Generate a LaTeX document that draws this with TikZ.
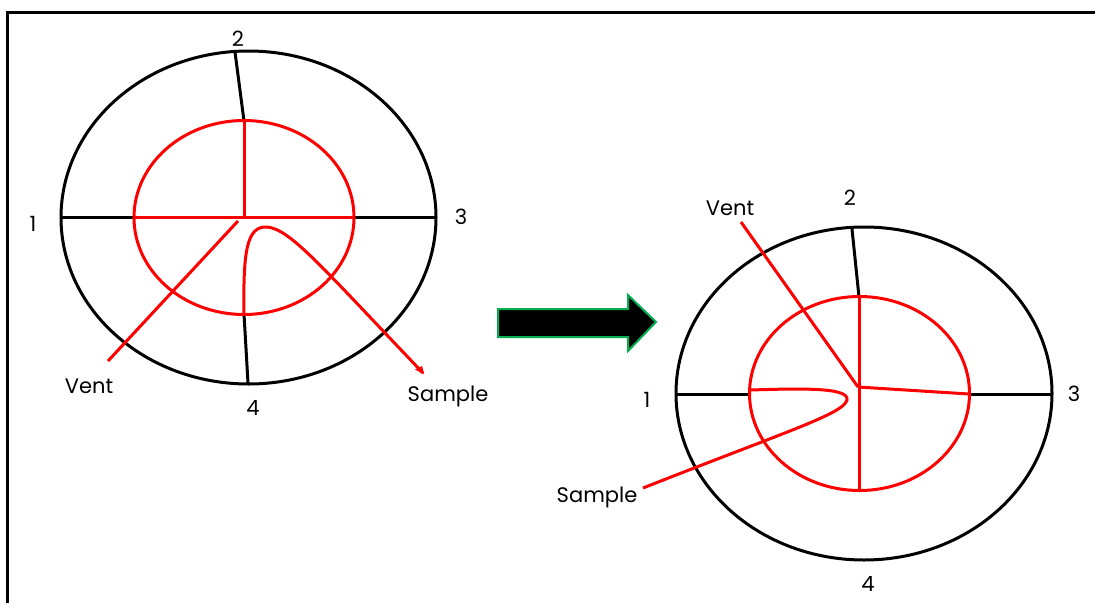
\documentclass[tikz,border=0pt]{standalone}
\usepackage{fontspec}
\setmainfont{Poppins}
\definecolor{arrowgreen}{HTML}{00B050}
\tikzset{
  blk/.style={draw=black,line width=3pt},
  redl/.style={draw=red,line width=3pt},
  lab/.style={font=\fontsize{21}{24}\selectfont,inner sep=0pt,text=black},
}
\begin{document}
\begin{tikzpicture}[x=1pt,y=-1pt]
\useasboundingbox (0,0) rectangle (1095,603);
\fill[white] (0,0) rectangle (1095,603);
\coordinate (fa) at (7.5,603);
\coordinate (fb) at (7.5,12);
\coordinate (fc) at (1095,12);
\draw[line width=3pt] (fa) -- (fb) -- (fc);
% left figure
\coordinate (Lc) at (244,217);
\coordinate (L1) at (61,217);
\coordinate (L1i) at (134,217);
\coordinate (L3) at (436,217);
\coordinate (L3i) at (354,217);
\coordinate (L2) at (235,52);
\coordinate (L2i) at (244,121);
\coordinate (L4) at (248,383);
\coordinate (L4i) at (244,314);
\draw[blk] (248.5,217.5) ellipse [x radius=187.5,y radius=166.5];
\draw[blk] (L1) -- (L1i);
\draw[blk] (L3i) -- (L3);
\draw[blk] (L2) -- (L2i);
\draw[blk] (L4i) -- (L4);
\draw[redl] (244,217.5) ellipse [x radius=110,y radius=97];
\draw[redl] (L1i) -- (L3i);
\draw[redl] (L2i) -- (Lc);
\coordinate (LVa) at (238,221);
\coordinate (LVb) at (108,361);
\draw[redl] (LVa) -- (LVb);
\coordinate (LSa) at (244,314);
\coordinate (LSb) at (423,373);
\coordinate (LSc) at (415,369.5);
\draw[redl] (LSa) .. controls (243,250) and (247,226) .. (267,227) .. controls (290,229) and (320,265) .. (LSb);
\fill[red] (LSc) -- (424,374) -- (422,366) -- cycle;
\node[lab] (n1) at (33,224) {1};
\node[lab] (n2) at (238,39) {2};
\node[lab] (n3) at (461,217) {3};
\node[lab] (n4) at (253,408) {4};
\node[lab] (nv) at (89,386) {Vent};
\node[lab] (ns) at (448,396.5) {Sample};
% arrow
\coordinate (a1) at (498,309);
\coordinate (a2) at (628,309);
\coordinate (a3) at (628,295);
\coordinate (a4) at (656,322);
\coordinate (a5) at (628,351);
\coordinate (a6) at (628,337);
\coordinate (a7) at (498,337);
\draw[draw=arrowgreen,fill=black,line width=2pt] (a1) -- (a2) -- (a3) -- (a4) -- (a5) -- (a6) -- (a7) -- cycle;
% right figure
\coordinate (Rc) at (858,387);
\coordinate (R1) at (677,394);
\coordinate (R1i) at (750,394);
\coordinate (R3) at (1052,394);
\coordinate (R3i) at (969,394);
\coordinate (R2) at (852,229);
\coordinate (R2i) at (859,297);
\coordinate (R4i) at (859,490);
\draw[blk] (864,393.5) ellipse [x radius=188,y radius=166.5];
\draw[blk] (R1) -- (R1i);
\draw[blk] (R3i) -- (R3);
\draw[blk] (R2) -- (R2i);
\draw[redl] (859.5,393.5) ellipse [x radius=110,y radius=97];
\draw[redl] (R2i) -- (R4i);
\draw[redl] (Rc) -- (R3i);
\coordinate (RVa) at (741,222);
\draw[redl] (RVa) -- (Rc);
\coordinate (RSa) at (749,390);
\coordinate (RSb) at (643,488);
\draw[redl] (RSa) .. controls (790,389) and (850,386) .. (847,400) .. controls (843,414) and (790,430) .. (RSb);
\node[lab] (m1) at (647,400) {1};
\node[lab] (m2) at (850,198) {2};
\node[lab] (m3) at (1074,394) {3};
\node[lab] (m4) at (868,584) {4};
\node[lab] (mv) at (730,208) {Vent};
\node[lab] (ms) at (597,497.5) {Sample};
\end{tikzpicture}
\end{document}
